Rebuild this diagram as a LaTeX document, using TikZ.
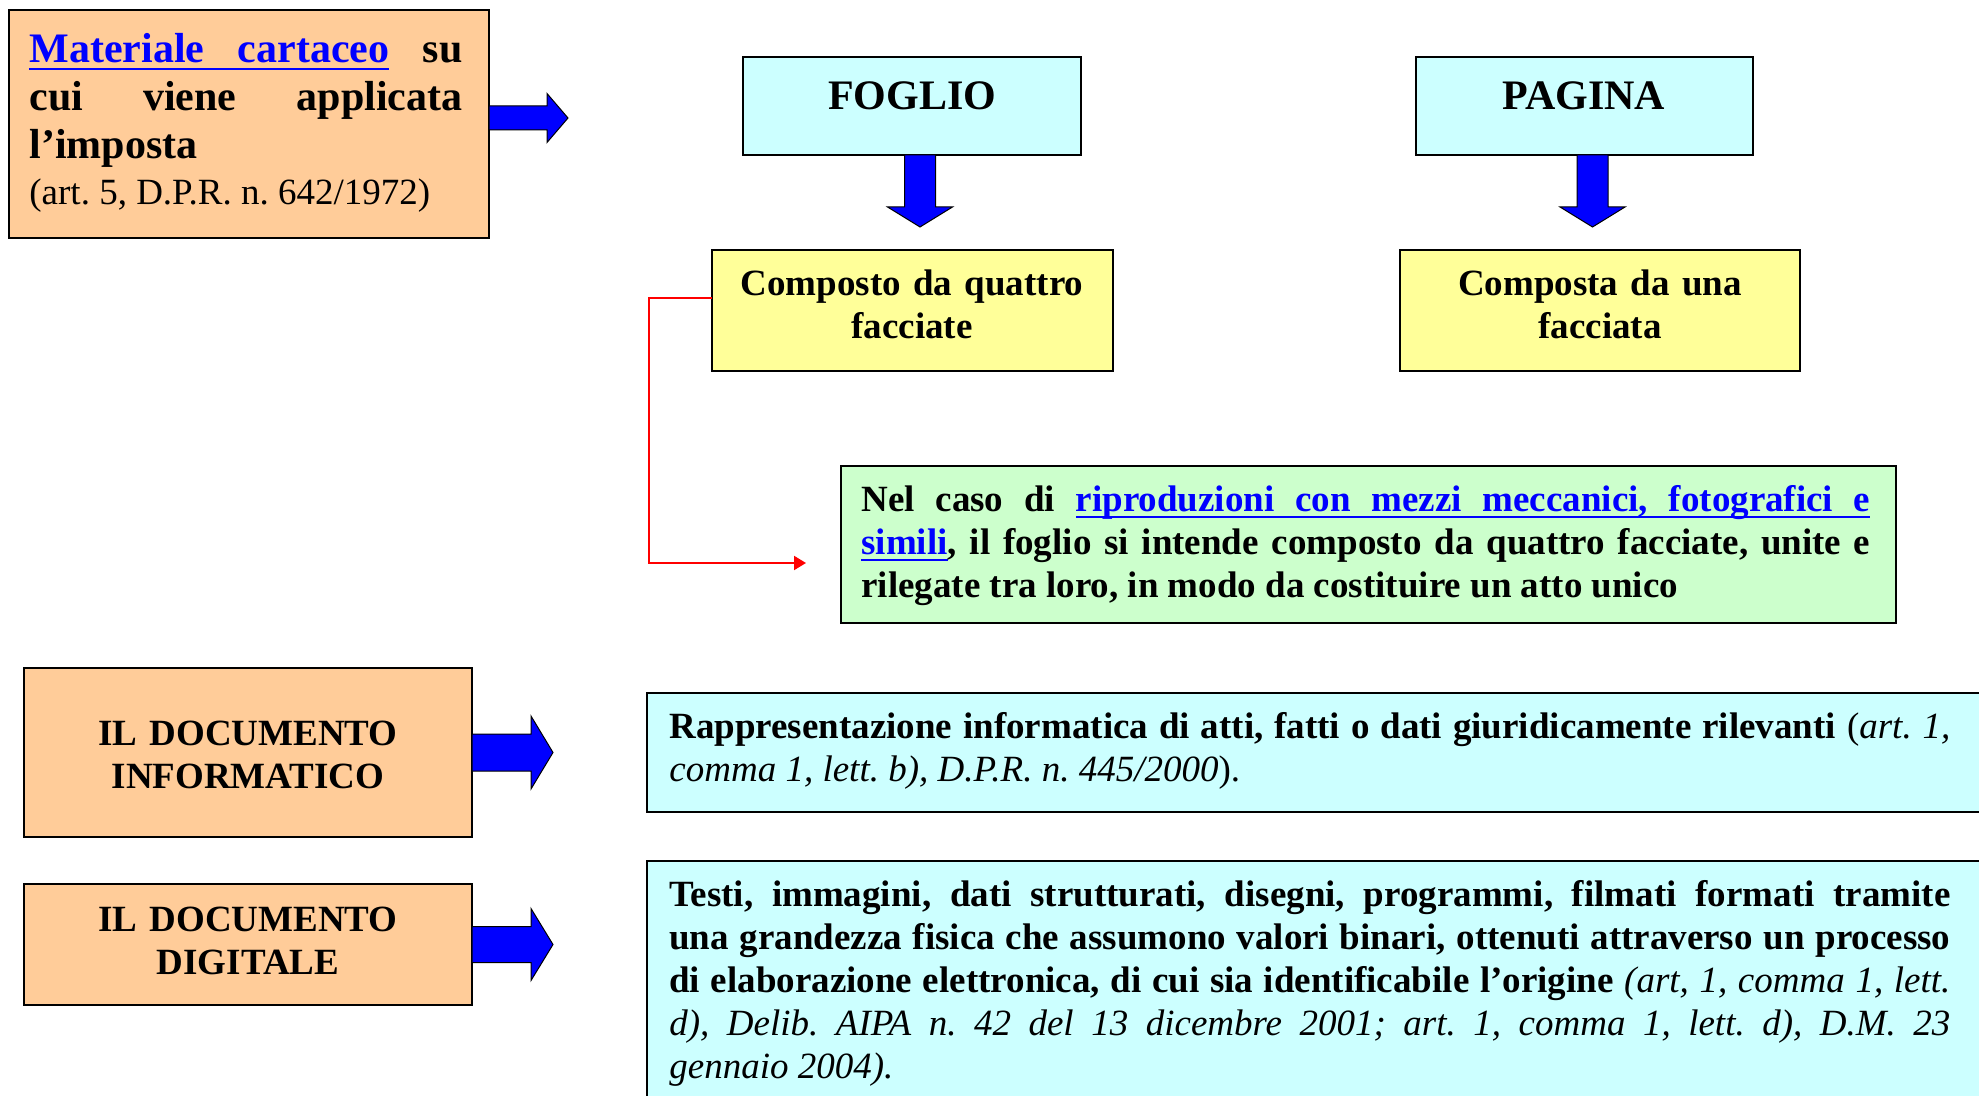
\documentclass[tikz,border=0pt]{standalone}
\usepackage{fontspec}
\setmainfont{Liberation Serif}
\usetikzlibrary{arrows.meta}
\definecolor{peach}{HTML}{FFCC99}
\definecolor{lightcyan}{HTML}{CCFFFF}
\definecolor{lightyellow}{HTML}{FFFF99}
\definecolor{lightgreen}{HTML}{CCFFCC}
\definecolor{arrowblue}{HTML}{0000FF}
\definecolor{linkblue}{HTML}{0000FF}
\frenchspacing
% underlined words and spaces that stretch with the line
\newcommand{\ulword}[1]{\setbox0\hbox{#1}\rlap{\vrule height -2.4pt depth 3.7pt width \wd0}\box0}
\newcommand{\ulspace}{\leaders\hrule height -2.4pt depth 3.7pt\hskip\fontdimen2\font plus\fontdimen3\font minus\fontdimen4\font}
\begin{document}
\begin{tikzpicture}[x=0.5pt,y=-0.5pt,
    box/.style={draw=black,line width=0.8pt,inner sep=0pt,outer sep=0pt,anchor=north west},
    peachbox/.style={box,fill=peach},
    cyanbox/.style={box,fill=lightcyan},
    yellowbox/.style={box,fill=lightyellow},
    greenbox/.style={box,fill=lightgreen},
    txt/.style={inner sep=0pt,font=\fontsize{18.5}{21.5}\selectfont\bfseries},
    headtxt/.style={inner sep=0pt,font=\fontsize{21}{24}\selectfont\bfseries},
    bluearrow/.style={draw=black,line width=0.5pt,fill=arrowblue,line join=miter},
    redline/.style={draw=red,line width=1pt,-{Triangle[length=6pt,width=7pt]}}]
    \useasboundingbox (0,0) rectangle (1979,1096);

    % boxes
    \node[peachbox,minimum width=240pt,minimum height=114pt] (matbox) at (9,10) {};
    \node[cyanbox,minimum width=169pt,minimum height=49pt] (foglio) at (743,57) {};
    \node[cyanbox,minimum width=168.5pt,minimum height=49pt] (pagina) at (1416,57) {};
    \node[yellowbox,minimum width=200.5pt,minimum height=60.5pt] (composto) at (712,250) {};
    \node[yellowbox,minimum width=200pt,minimum height=60.5pt] (composta) at (1400,250) {};
    \node[greenbox,minimum width=527.5pt,minimum height=78.5pt] (verde) at (841,466) {};
    \node[peachbox,minimum width=224pt,minimum height=84.5pt] (infobox) at (24,668) {};
    \node[peachbox,minimum width=224pt,minimum height=60.5pt] (digibox) at (24,884) {};
    \node[cyanbox,minimum width=680pt,minimum height=59.5pt] (rappbox) at (647,693) {};
    \node[cyanbox,minimum width=680pt,minimum height=130pt] (testibox) at (647,861) {};

    % texts
    \node[headtxt,anchor=base west,text width=216.5pt,align=justify] (mattxt) at (29,63)
        {{\color{linkblue}\ulword{Materiale}\ulspace\ulword{cartaceo}} su\linebreak cui viene applicata\linebreak l’imposta\\[-1pt]
        {\mdseries\fontsize{18.5}{21.5}\selectfont(art. 5, D.P.R. n. 642/1972)}};
    \node[headtxt,anchor=base] (fogliotxt) at (912,110) {FOGLIO};
    \node[headtxt,anchor=base] (paginatxt) at (1584,110) {PAGINA};
    \node[txt,anchor=base,text width=190pt,align=center] (compostotxt) at (912,296) {Composto da quattro\\facciate};
    \node[txt,anchor=base,text width=190pt,align=center] (compostatxt) at (1600,296) {Composta da una\\facciata};
    \node[txt,anchor=base west,text width=504.5pt,align=justify] (verdetxt) at (861,511)
        {Nel caso di {\color{linkblue}\ulword{riproduzioni}\ulspace\ulword{con}\ulspace\ulword{mezzi}\ulspace
        \ulword{meccanici,}\ulspace\ulword{fotografici}\ulspace\ulword{e}}\linebreak
        {\color{linkblue}\ulword{simili}}, il foglio si intende composto da quattro facciate, unite e\linebreak
        rilegate tra loro, in modo da costituire un atto unico};
    \node[txt,anchor=base,text width=200pt,align=center] (infotxt) at (248,745) {IL DOCUMENTO\\INFORMATICO};
    \node[txt,anchor=base,text width=200pt,align=center] (digitxt) at (248,931) {IL DOCUMENTO\\DIGITALE};
    \node[txt,anchor=base west,text width=640.5pt,align=justify] (rapptxt) at (669,738)
        {Rappresentazione informatica di atti, fatti o dati giuridicamente rilevanti
        \textnormal{(\textit{art. 1,}\linebreak\textit{comma 1, lett. b), D.P.R. n. 445/2000}).}};
    \node[txt,anchor=base west,text width=640.5pt,align=justify] (testitxt) at (669,906)
        {Testi, immagini, dati strutturati, disegni, programmi, filmati formati tramite\linebreak
        una grandezza fisica che assumono valori binari, ottenuti attraverso un processo\linebreak
        di elaborazione elettronica, di cui sia identificabile l’origine
        \textnormal{\itshape(art, 1, comma 1, lett.\linebreak
        d), Delib. AIPA n. 42 del 13 dicembre 2001; art. 1, comma 1, lett. d), D.M. 23\linebreak
        gennaio 2004).}};

    % block arrows
    \foreach \b/\dy/\s/\h/\L/\H in {matbox/3/12/24.5/58/21, infobox/0/18.5/36.5/59/22, digibox/0/18/36/59/22}
        \draw[bluearrow] ([yshift=\dy pt]\b.east) ++(0,-\s) -- ++(\L,0) -- ++(0,\s-\h) -- ++(\H,\h)
            -- ++(-\H,\h) -- ++(0,\s-\h) -- ++(-\L,0) -- cycle;
    \foreach \b in {foglio,pagina}
        \draw[bluearrow] ([xshift=4pt]\b.south) ++(-15.5,0) -- ++(0,52) -- ++(-17,0) -- ++(32.5,20)
            -- ++(32.5,-20) -- ++(-17,0) -- ++(0,-52) -- cycle;

    % red connector
    \coordinate (redend) at (806,563);
    \draw[redline] ([yshift=6pt]composto.west) -- ++(-63,0) |- (redend);
\end{tikzpicture}
\end{document}
